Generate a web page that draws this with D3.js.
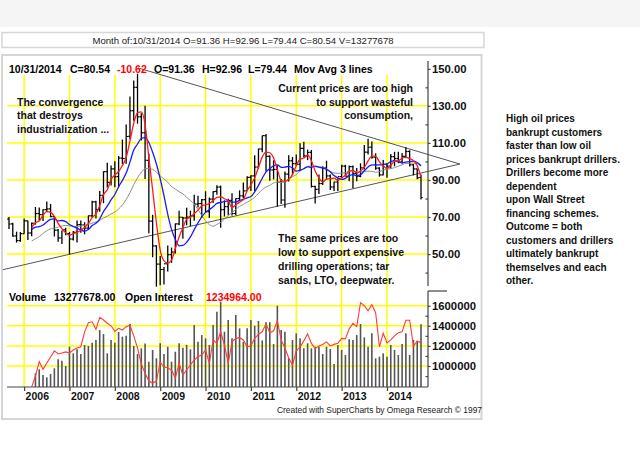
<!DOCTYPE html>
<html><head><meta charset="utf-8">
<script src="https://cdn.jsdelivr.net/npm/d3@7"></script>
<style>
html,body{margin:0;padding:0;background:#fff;}
svg{display:block;font-family:"Liberation Sans",Arial,Helvetica,sans-serif;}
</style></head><body>
<svg id="c" width="640" height="449"></svg>
<script>
// ---------- DATA (monthly crude oil, Sep 2005 .. Oct 2014) ----------
const firstMonth = "2005-09";
const priorCloses = [51.76,49.13,43.45,48.20,51.75,55.40,49.72,51.97,56.50,60.57,68.94]; // Oct 2004 .. Aug 2005
const opens = [68.9,66.3,59.8,57.3,61.0,67.9,61.4,66.6,71.9,71.3,74.0,74.4,70.3,62.9,58.7,63.1,
 61.0,58.1,61.8,65.9,65.7,64.0,70.7,78.2,74.0,81.7,94.5,88.7,
 96.0,91.8,101.8,101.6,113.5,127.4,140.0,124.1,115.5,100.6,67.8,54.4,
 44.6,41.7,44.8,49.7,51.1,66.3,69.9,69.5,70.0,70.6,77.0,77.3,
 79.4,72.9,79.7,83.8,86.2,74.0,75.6,79.0,71.9,80.0,81.4,84.1,
 91.4,92.2,97.0,106.7,113.9,102.7,95.4,95.7,88.8,79.2,93.2,100.4,
 98.8,98.5,107.1,103.0,104.9,86.5,85.0,88.1,96.5,92.2,86.2,88.9,
 91.8,97.5,92.1,97.2,93.5,92.0,96.6,105.0,107.7,102.3,96.4,92.7,
 98.4,97.5,102.6,101.6,99.7,102.7,105.4,98.2,96.0,91.36];
const highs = [70.0,66.9,62.1,61.9,69.2,68.0,67.0,75.4,75.1,74.2,78.4,77.0,70.4,63.6,62.8,64.2,
 61.9,62.4,68.1,68.1,67.2,70.8,78.8,78.8,84.1,94.7,99.3,97.8,
 100.1,103.0,111.8,119.9,135.1,143.7,147.3,126.0,130.0,104.1,71.2,54.8,
 49.0,43.0,54.7,53.5,66.5,73.4,70.0,75.0,73.4,82.0,81.5,79.7,
 83.9,80.5,83.9,87.1,87.0,79.0,79.9,82.9,80.1,84.4,88.6,92.0,
 92.6,103.4,106.9,113.9,114.8,103.4,100.6,98.0,90.5,94.6,103.4,102.4,
 103.7,109.8,110.6,106.4,106.2,86.9,92.9,97.4,100.4,93.0,89.0,91.0,
 98.2,98.2,97.8,97.8,96.4,99.0,108.9,112.2,110.7,104.4,96.9,100.8,
 98.9,104.0,105.2,105.2,104.5,107.7,106.0,98.7,96.0,92.96];
const lows = [63.5,59.3,56.2,56.7,61.0,57.6,59.6,65.9,68.0,67.9,72.7,69.9,59.5,56.6,55.4,60.2,
 49.9,57.3,56.3,61.5,60.7,63.6,69.7,69.2,72.9,77.5,86.0,87.0,
 86.1,86.1,98.7,98.7,112.0,122.0,120.4,111.3,90.5,61.3,48.3,32.4,
 33.2,33.6,40.6,45.3,50.3,65.6,58.3,65.6,65.1,68.0,75.2,69.5,
 72.4,69.5,77.6,82.0,64.2,70.3,71.0,70.8,71.1,79.0,80.1,84.0,
 84.1,84.1,96.0,105.0,94.6,89.6,90.3,75.7,77.1,75.0,89.2,92.5,
 97.5,95.4,102.1,100.7,85.9,77.3,82.4,87.3,90.0,84.6,84.1,84.1,
 91.0,92.0,89.3,85.6,89.3,91.5,95.6,103.7,101.5,95.5,91.8,92.5,
 91.2,96.1,97.4,99.0,98.7,101.7,97.3,92.5,90.4,79.44];
const closes = [66.24,59.76,57.32,61.04,67.92,61.41,66.63,71.88,71.29,73.93,74.40,70.26,62.91,58.73,63.13,61.05,
 58.14,61.79,65.87,65.71,64.01,70.68,78.21,74.04,81.66,94.53,88.71,95.98,
 91.75,101.84,101.58,113.46,127.35,140.00,124.08,115.46,100.64,67.81,54.43,44.60,
 41.68,44.76,49.66,51.12,66.31,69.89,69.45,69.96,70.61,77.00,77.28,79.36,
 72.89,79.66,83.76,86.15,73.97,75.63,78.95,71.92,79.97,81.43,84.11,91.38,
 92.19,96.97,106.72,113.93,102.70,95.42,95.70,88.81,79.20,93.19,100.36,98.83,
 98.48,107.07,103.02,104.87,86.53,84.96,88.06,96.47,92.19,86.24,88.91,91.82,
 97.49,92.05,97.23,93.46,91.97,96.56,105.03,107.65,102.33,96.38,92.72,98.42,
 97.49,102.59,101.58,99.74,102.71,105.37,98.17,95.96,91.16,80.54];
const volumes = [null,null,null,null,null,null,null,927000,967000,910000,887000,920000,977000,1067000,1053000,1000000,
 1192000,1126000,1166000,1119000,1209000,1199000,1232000,1259000,1358000,1318000,1126000,1259000,
 1232000,1338000,1292000,1300000,1420000,1199000,1119000,1176000,1225000,1043000,1159000,1077000,
 1226000,1119000,1192000,1043000,1142000,1226000,1182000,1209000,1166000,1408000,1242000,1308000,
 1275000,1209000,1408000,1541000,1640000,1341000,1458000,1275000,1507000,1375000,1242000,1375000,
 1458000,1400000,1448000,1255000,1436000,1436000,1219000,1600000,1358000,1341000,1076000,1259000,
 1325000,1275000,1176000,1226000,1176000,1192000,1192000,1119000,1192000,1169000,1020000,1209000,
 1159000,1109000,1265000,1259000,1308000,1418000,1285000,1192000,1325000,1076000,1093000,1126000,
 1093000,1209000,1159000,1109000,1219000,1325000,1109000,1259000,1252000,1415000];
const openInterest = [null,null,null,null,null,null,790000,900000,1043000,967000,1030000,1090000,1150000,1120000,1130000,1140000,
 1130000,1159000,1180000,1192000,1340000,1430000,1440000,1365000,1484000,1458000,1425000,1400000,
 1345000,1375000,1358000,1391000,1408000,1300000,1180000,1020000,927000,850000,830000,850000,
 1040000,990000,980000,960000,880000,1027000,910000,960000,1010000,1060000,1093000,1109000,
 1159000,1027000,1259000,1226000,1341000,1209000,1027000,1242000,1275000,1282000,1259000,1192000,
 1200000,1275000,1315000,1340000,1420000,1330000,1350000,1451000,1260000,1180000,1080000,1010000,
 1150000,1190000,1250000,1320000,1225000,1175000,1200000,1215000,1240000,1200000,1215000,1225000,
 1275000,1270000,1370000,1425000,1391000,1630000,1600000,1550000,1610000,1530000,1190000,1325000,
 1230000,1260000,1300000,1330000,1340000,1455000,1455000,1200000,1245000,1235000];
const yearLabels = ["2006","2007","2008","2009","2010","2011","2012","2013","2014"];
const priceTicks = [150,130,110,90,70,50];
const priceMinorTicks = [140,120,100,80,60,40];
const volumeTicks = [1600000,1400000,1200000,1000000];
const volumeMinorTicks = [1500000,1300000,1100000,900000];
const maLengths = [4,9,18];
const maStartIndex = 6;
// trend lines: [month index, price]
const upperTrend = [[34.1,150.5],[119.3,98.6]];
const lowerTrend = [[-1.6,41.6],[119.3,98.6]];

const headerLine = "Month of:10/31/2014 O=91.36 H=92.96 L=79.44 C=80.54 V=13277678";
const priceLegend = [["10/31/2014","#000"],["C=80.54","#000"],["-10.62","#ff0000"],["O=91.36","#000"],["H=92.96","#000"],["L=79.44","#000"],["Mov Avg 3 lines","#000"]];
const volumeLegend = [["Volume","#000"],["13277678.00","#000"],["Open Interest","#000"],["1234964.00","#ff0000"]];
const noteLeft = ["The convergence","that destroys","industrialization ..."];
const noteTop = ["Current prices are too high","to support wasteful","consumption,"];
const noteBottom = ["The same prices are too","low to support expensive","drilling operations; tar","sands, LTO, deepwater."];
const sideNote = ["High oil prices","bankrupt customers","faster than low oil","prices bankrupt drillers.","Drillers become more","dependent","upon Wall Street","financing schemes.","Outcome = both","customers and drillers","ultimately bankrupt","themselves and each","other."];
const credit = "Created with SuperCharts by Omega Research \u00A9 1997";

// ---------- LAYOUT ----------
const svg = d3.select("#c");
const n = closes.length;
const x = d3.scaleLinear().domain([0, n - 1]).range([9, 421]);
const y = d3.scaleLinear().domain([50, 150]).range([254.1, 68.8]);
const yv = d3.scaleLinear().domain([1000000, 1600000]).range([366, 305.7]);
const axisX = 428, plotLeft = 7, volBottom = 387, volTop = 291;
const startYear = +firstMonth.slice(0,4), startMon = +firstMonth.slice(5,7);
const janIndex = yr => (yr - startYear) * 12 + (1 - startMon);

// background pieces
svg.append("rect").attr("x",0).attr("y",0).attr("width",640).attr("height",449).attr("fill","#fff");
svg.append("rect").attr("x",0).attr("y",0).attr("width",640).attr("height",27).attr("fill","#f5f5f5");
svg.append("rect").attr("x",2).attr("y",32.5).attr("width",482).attr("height",15).attr("fill","#fff").attr("stroke","#d6d6d6").attr("stroke-width",1.5);
svg.append("rect").attr("x",2).attr("y",55).attr("width",479.5).attr("height",364).attr("fill","#fff").attr("stroke","#d6d6d6").attr("stroke-width",2);

svg.append("text").attr("x",243).attr("y",44.2).attr("text-anchor","middle").attr("font-size",9.6).attr("fill","#222").text(headerLine);

// grid
const grid = svg.append("g").attr("stroke","#ffff00").attr("stroke-width",1.5);
yearLabels.forEach(yl => {
  const gx = x(janIndex(+yl));
  grid.append("line").attr("x1",gx).attr("x2",gx).attr("y1",75).attr("y2",volBottom);
});
priceTicks.filter(v => v < 150).forEach(v => {
  grid.append("line").attr("x1",plotLeft).attr("x2",axisX).attr("y1",y(v)).attr("y2",y(v));
});
volumeTicks.forEach(v => {
  grid.append("line").attr("x1",plotLeft).attr("x2",axisX).attr("y1",yv(v)).attr("y2",yv(v));
});

// trend lines
const trend = d3.line().x(d => x(d[0])).y(d => y(d[1]));
[upperTrend, lowerTrend].forEach(t => svg.append("path").attr("d", trend(t)).attr("fill","none").attr("stroke","#555").attr("stroke-width",1));

// price bars
const bars = svg.append("g").attr("stroke","#000");
closes.forEach((c, i) => {
  const bx = x(i);
  bars.append("line").attr("x1",bx).attr("x2",bx).attr("y1",y(highs[i])).attr("y2",y(lows[i])).attr("stroke-width",1.3);
  bars.append("line").attr("x1",bx-1.8).attr("x2",bx).attr("y1",y(opens[i])).attr("y2",y(opens[i])).attr("stroke-width",1.2);
  bars.append("line").attr("x1",bx).attr("x2",bx+1.8).attr("y1",y(c)).attr("y2",y(c)).attr("stroke-width",1.2);
});

// moving averages of closes
const allCloses = priorCloses.concat(closes);
const maColors = ["#ff1a1a","#1a1aff","#8f8f8f"];
maLengths.slice().reverse().forEach((len, k) => {
  const ci = maLengths.length - 1 - k;
  const pts = d3.range(maStartIndex, n).map(i => {
    const idx = i + priorCloses.length;
    return [i, d3.mean(allCloses.slice(idx - len + 1, idx + 1))];
  });
  svg.append("path").attr("d", d3.line().x(d => x(d[0])).y(d => y(d[1])).curve(d3.curveMonotoneX)(pts))
    .attr("fill","none").attr("stroke", maColors[ci]).attr("stroke-width", ci === 2 ? 1 : 1.3);
});

// volume panel
svg.append("defs").append("clipPath").attr("id","vclip").append("rect").attr("x",0).attr("y",volTop).attr("width",axisX).attr("height",volBottom-volTop);
const vg = svg.append("g").attr("clip-path","url(#vclip)");
volumes.forEach((v, i) => {
  if (v == null) return;
  vg.append("line").attr("x1",x(i)).attr("x2",x(i)).attr("y1",volBottom).attr("y2",yv(v)).attr("stroke","#555").attr("stroke-width",1.6);
});
const oiPts = openInterest.map((v,i)=>[i,v]).filter(d => d[1] != null);
vg.append("path").attr("d", d3.line().x(d => x(d[0])).y(d => yv(d[1]))(oiPts)).attr("fill","none").attr("stroke","#ff3b3b").attr("stroke-width",1.1);

// axes lines
svg.append("line").attr("x1",plotLeft).attr("x2",axisX).attr("y1",volBottom).attr("y2",volBottom).attr("stroke","#444").attr("stroke-width",1.2);
svg.append("line").attr("x1",axisX).attr("x2",axisX).attr("y1",61).attr("y2",286).attr("stroke","#444").attr("stroke-width",1.2);
svg.append("line").attr("x1",axisX).attr("x2",axisX).attr("y1",volTop).attr("y2",volBottom).attr("stroke","#444").attr("stroke-width",1.2);
svg.append("line").attr("x1",axisX).attr("x2",447).attr("y1",volTop).attr("y2",volTop).attr("stroke","#444").attr("stroke-width",1.2);

function styleAxis(g){ g.select(".domain").remove(); g.selectAll("line").attr("stroke","#444").attr("stroke-width",1.2);
  g.selectAll("text").attr("font-family","Liberation Sans, Arial, sans-serif").attr("font-weight","bold").attr("font-size",11.3).attr("fill","#111"); }
svg.append("g").attr("transform",`translate(${axisX},0)`).call(d3.axisRight(y).tickValues(priceTicks).tickFormat(d3.format(".2f")).tickSize(2.5).tickPadding(1.5)).call(styleAxis);
svg.append("g").attr("transform",`translate(${axisX},0)`).call(d3.axisLeft(y).tickValues(priceMinorTicks).tickFormat("").tickSize(2.5)).call(styleAxis);
svg.append("g").attr("transform",`translate(${axisX},0)`).call(d3.axisRight(yv).tickValues(volumeTicks).tickFormat(d3.format("d")).tickSize(2.5).tickPadding(1.5)).call(styleAxis);
svg.append("g").attr("transform",`translate(${axisX},0)`).call(d3.axisLeft(yv).tickValues(volumeMinorTicks).tickFormat("").tickSize(2.5)).call(styleAxis);

// year ticks + labels
const xTickVals = yearLabels.map(yl => janIndex(+yl));
svg.append("g").attr("transform",`translate(0,${volBottom})`)
  .call(d3.axisBottom(x).tickValues(xTickVals).tickFormat((d,k) => yearLabels[k]).tickSize(4).tickPadding(1))
  .call(g => { g.select(".domain").remove(); g.selectAll("line").attr("stroke","#444").attr("stroke-width",1.2);
    g.selectAll("text").attr("text-anchor","start").attr("dx",1).attr("y",12.6).attr("dy",0).attr("font-family","Liberation Sans, Arial, sans-serif").attr("font-weight","bold").attr("font-size",10.5).attr("fill","#111"); });

// texts
const tb = (sel) => sel.attr("font-weight","bold").attr("font-size",10.5).attr("fill","#111");
const legendX = [9,70,117,154,202,248,294];
priceLegend.forEach((d,k) => tb(svg.append("text")).attr("x",legendX[k]).attr("y",72.5).attr("fill",d[1]).text(d[0]));
const volX = [9,54,125,206];
volumeLegend.forEach((d,k) => tb(svg.append("text")).attr("x",volX[k]).attr("y",300.5).attr("fill",d[1]).text(d[0]));
noteLeft.forEach((t,k) => tb(svg.append("text")).attr("x",17).attr("y",105.5 + k*13.6).text(t));
noteTop.forEach((t,k) => tb(svg.append("text")).attr("x",413).attr("y",91.8 + k*13.8).attr("text-anchor","end").text(t));
noteBottom.forEach((t,k) => tb(svg.append("text")).attr("x",278).attr("y",241.8 + k*13.9).text(t));
sideNote.forEach((t,k) => svg.append("text").attr("x",506).attr("y",122.3 + k*13.5).attr("font-weight","bold").attr("font-size",10).attr("fill","#111").text(t));
svg.append("text").attr("x",277).attr("y",412.5).attr("font-size",8.4).attr("fill","#222").text(credit);
</script>
</body></html>
